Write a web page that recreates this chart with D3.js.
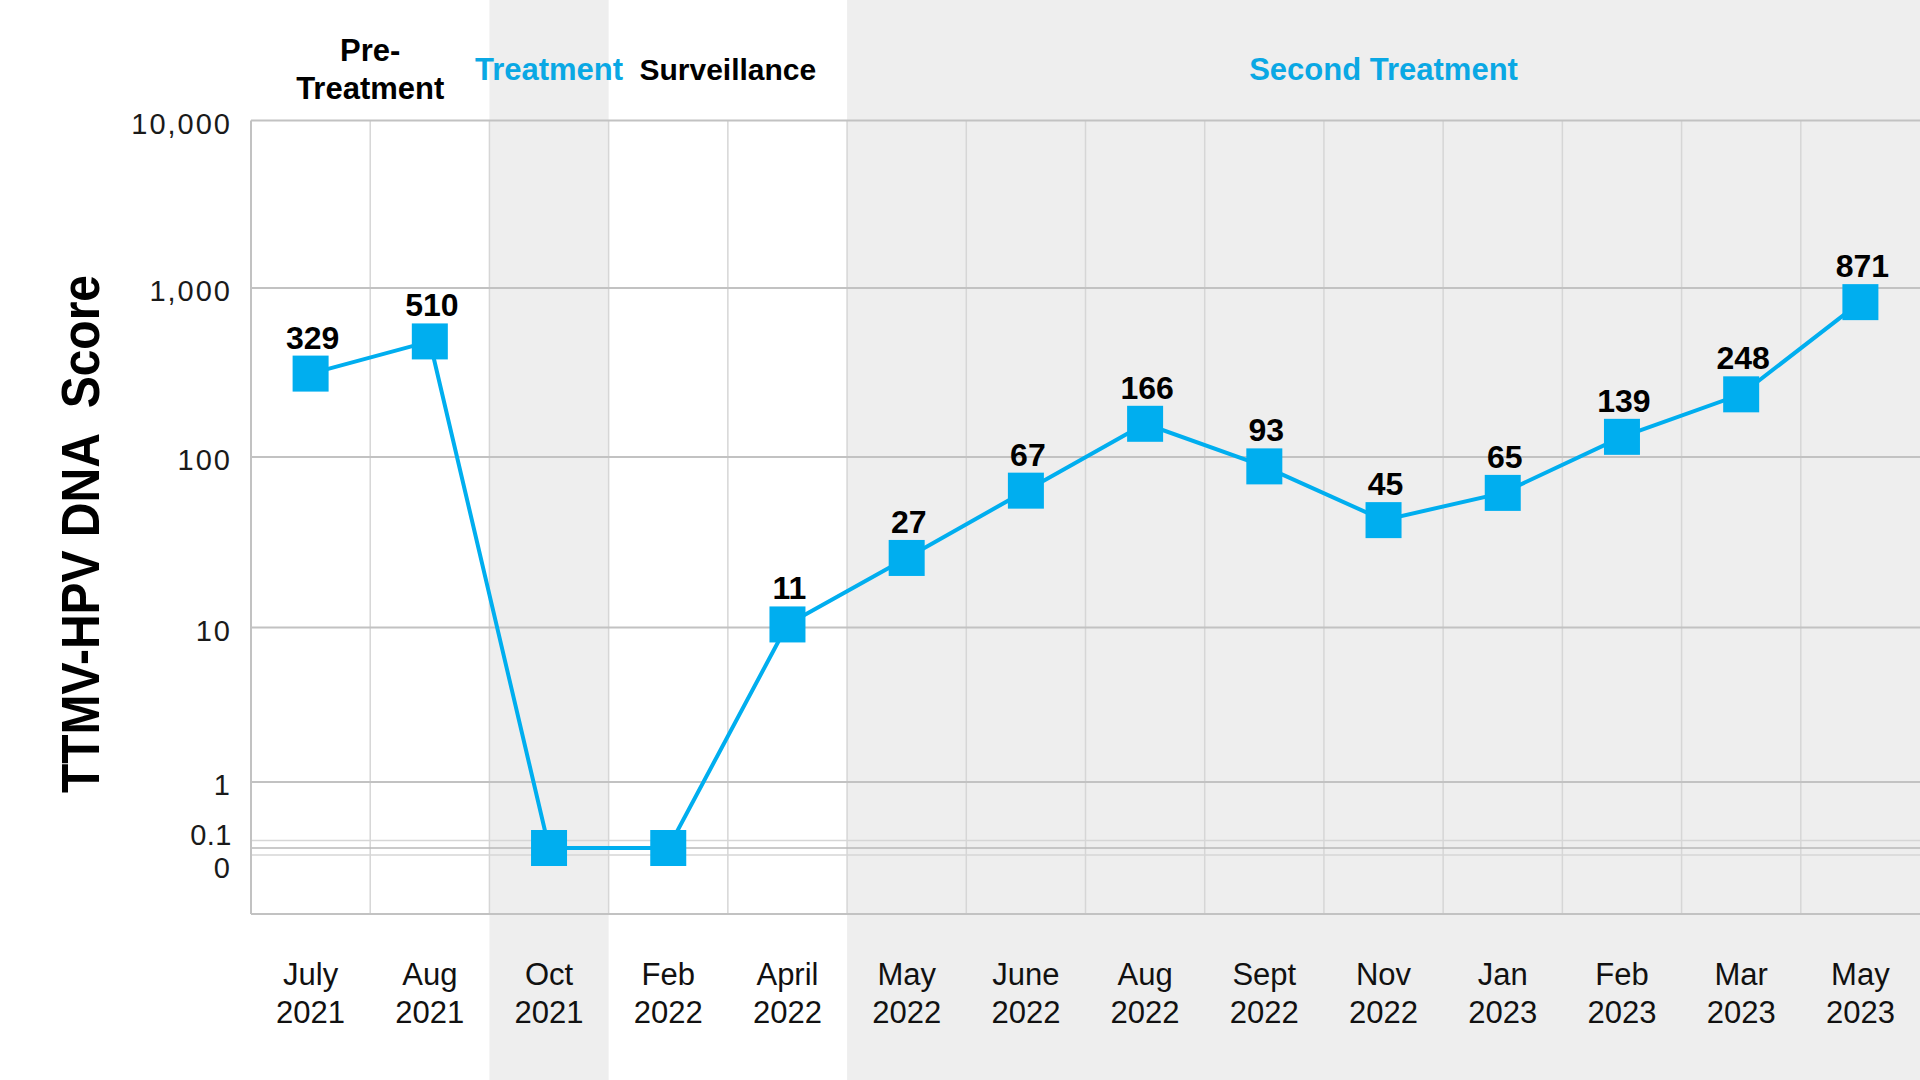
<!DOCTYPE html>
<html>
<head>
<meta charset="utf-8">
<script src="https://cdn.jsdelivr.net/npm/d3@7"></script>
<style>
	body { margin: 0; background: #fff; }
	text { font-family: "Liberation Sans", Arial, Helvetica, sans-serif; }
</style>
</head>
<body>
<div id="chart"></div>
<script>
// Data
const months = ["July 2021", "Aug 2021", "Oct 2021", "Feb 2022", "April 2022", "May 2022", "June 2022",
	"Aug 2022", "Sept 2022", "Nov 2022", "Jan 2023", "Feb 2023", "Mar 2023", "May 2023"];
const scores = [329, 510, 0, 0, 11, 27, 67, 166, 93, 45, 65, 139, 248, 871];

// Treatment phases (first / last month index)
const phaseNames = [["Pre-", "Treatment"], ["Treatment"], ["Surveillance"], ["Second Treatment"]];
const phaseFirst = [0, 2, 3, 5];
const phaseLast = [1, 2, 4, 13];
const phaseActive = [false, true, false, true];

// Y ticks (log axis with a break down to 0)
const yTicks = [10000, 1000, 100, 10, 1, 0.1, 0];
const yTickLabels = ["10,000", "1,000", "100", "10", "1", "0.1", "0"];

const W = 1920, H = 1080;
const plotLeft = 251, plotRight = 1920, plotTop = 120.5, plotBottom = 914;
const blue = "#00aeef";
const shade = "#eeeeee";
const markerShift = 4; // series sits a touch below the grid in the original

const svg = d3.select("#chart").append("svg")
	.attr("width", W).attr("height", H)
	.attr("viewBox", `0 0 ${W} ${H}`);

const x = d3.scaleBand().domain(months).range([plotLeft, plotRight]).padding(0);

// log10 value -> pixel, piecewise so the 0 point sits in the axis break
const ZERO = -1.1;
const yLin = d3.scaleLinear()
	.domain([ZERO, -1, 0, 1, 2, 3, 4])
	.range([844, 840.5, 782, 627.5, 457, 288, plotTop]);
const y = (v) => yLin(v > 0 ? Math.log10(v) : ZERO);

// Phase shading, full height
phaseNames.forEach((name, i) => {
	if (!phaseActive[i]) return;
	const x0 = x(months[phaseFirst[i]]);
	const x1 = x(months[phaseLast[i]]) + x.bandwidth();
	svg.append("rect")
		.attr("x", x0).attr("y", 0)
		.attr("width", x1 - x0).attr("height", H)
		.attr("fill", shade);
});

// Vertical grid
const grid = svg.append("g");
months.forEach((m, i) => {
	if (i === 0) return;
	grid.append("line")
		.attr("x1", x(m)).attr("x2", x(m))
		.attr("y1", plotTop).attr("y2", plotBottom)
		.attr("stroke", "#d6d6d6").attr("stroke-width", 1.5);
});

// Horizontal grid
yTicks.forEach((t) => {
	if (t === 0) return;
	grid.append("line")
		.attr("x1", plotLeft).attr("x2", plotRight)
		.attr("y1", y(t)).attr("y2", y(t))
		.attr("stroke", t === 0.1 ? "#d6d6d6" : "#c2c2c2")
		.attr("stroke-width", t === 0.1 ? 1.5 : 2);
});
// axis break: zero line and lower break line
const zeroY = y(0) + markerShift;
grid.append("line")
	.attr("x1", plotLeft).attr("x2", plotRight)
	.attr("y1", zeroY).attr("y2", zeroY)
	.attr("stroke", "#b8b8b8").attr("stroke-width", 1.5);
grid.append("line")
	.attr("x1", plotLeft).attr("x2", plotRight)
	.attr("y1", zeroY + 7).attr("y2", zeroY + 7)
	.attr("stroke", "#d6d6d6").attr("stroke-width", 1.5);

// Plot frame (left and bottom)
svg.append("line")
	.attr("x1", plotLeft).attr("x2", plotLeft).attr("y1", plotTop).attr("y2", plotBottom)
	.attr("stroke", "#c2c2c2").attr("stroke-width", 2);
svg.append("line")
	.attr("x1", plotLeft).attr("x2", plotRight).attr("y1", plotBottom).attr("y2", plotBottom)
	.attr("stroke", "#c2c2c2").attr("stroke-width", 2);

// Y tick labels
const tickOffset = { "0.1": -6, "0": 24 };
yTicks.forEach((t, i) => {
	svg.append("text")
		.attr("x", 232)
		.attr("y", y(t) + (tickOffset[String(t)] || 3))
		.attr("dy", "0.35em")
		.attr("text-anchor", "end")
		.attr("font-size", 29)
		.attr("letter-spacing", t === 0.1 ? 0.5 : 2)
		.attr("fill", "#1a1a1a")
		.text(yTickLabels[i]);
});

// Y title
svg.append("text")
	.attr("transform", "translate(99,534) rotate(-90)")
	.attr("text-anchor", "middle")
	.attr("font-size", 54)
	.attr("font-weight", "bold")
	.attr("textLength", 518)
	.attr("lengthAdjust", "spacingAndGlyphs")
	.attr("fill", "#000")
	.style("white-space", "pre")
	.text("TTMV-HPV DNA  Score");

// X labels
months.forEach((m) => {
	const [mon, yr] = m.split(" ");
	const t = svg.append("text")
		.attr("text-anchor", "middle")
		.attr("font-size", 31)
		.attr("fill", "#111");
	t.append("tspan").attr("x", x(m) + x.bandwidth() / 2).attr("y", 985).text(mon);
	t.append("tspan").attr("x", x(m) + x.bandwidth() / 2).attr("y", 1023).text(yr);
});

// Phase headers
phaseNames.forEach((name, i) => {
	const cx = (x(months[phaseFirst[i]]) + x(months[phaseLast[i]]) + x.bandwidth()) / 2;
	const t = svg.append("text")
		.attr("text-anchor", "middle")
		.attr("font-size", name[0] === "Surveillance" ? 30 : 31)
		.attr("font-weight", "bold")
		.attr("fill", phaseActive[i] ? "#0aa8e4" : "#000");
	const base = name.length > 1 ? 61 : 80;
	name.forEach((line, j) => {
		t.append("tspan").attr("x", cx).attr("y", base + j * 38).text(line);
	});
});

// Series group
const series = svg.append("g").attr("transform", `translate(0,${markerShift})`);
const cxOf = (i) => x(months[i]) + x.bandwidth() / 2;
const line = d3.line()
	.x((d, i) => cxOf(i))
	.y((d) => y(d));
series.append("path")
	.datum(scores)
	.attr("d", line)
	.attr("fill", "none")
	.attr("stroke", blue)
	.attr("stroke-width", 4);

// Square markers
const size = 36;
series.selectAll("rect.pt")
	.data(scores)
	.enter()
	.append("rect")
	.attr("class", "pt")
	.attr("x", (d, i) => cxOf(i) - size / 2)
	.attr("y", (d) => y(d) - size / 2)
	.attr("width", size)
	.attr("height", size)
	.attr("fill", blue);

// Value labels (none for zeros)
const labelled = scores.map((v, i) => ({ v, i })).filter((d) => d.v > 0);
series.selectAll("text.val")
	.data(labelled)
	.enter()
	.append("text")
	.attr("class", "val")
	.attr("x", (d) => cxOf(d.i) + 2)
	.attr("y", (d) => y(d.v) - 25)
	.attr("text-anchor", "middle")
	.attr("font-size", 32)
	.attr("font-weight", "bold")
	.attr("fill", "#000")
	.text((d) => d.v);
</script>
</body>
</html>
